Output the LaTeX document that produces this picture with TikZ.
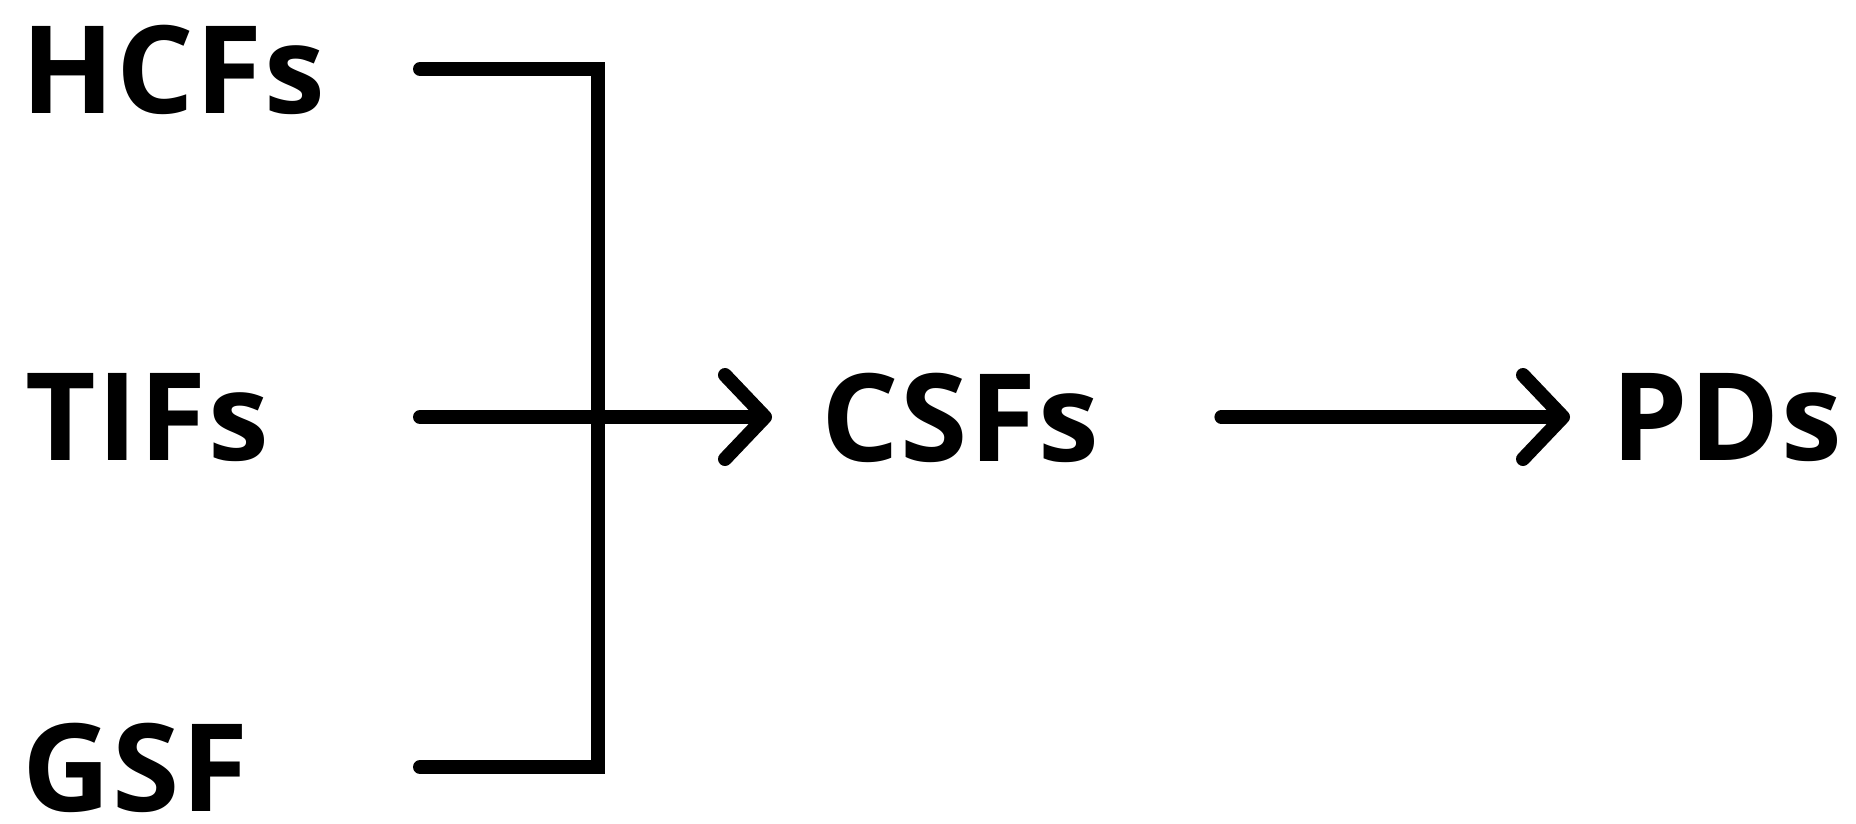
\documentclass[tikz,border=0pt]{standalone}
\usepackage{fontspec}
\setmainfont{Open Sans}[LetterSpace=1.5]
\usepackage{tikz}
\usetikzlibrary{arrows.meta, positioning, calc}

\begin{document}
\begin{tikzpicture}[x=1pt, y=1pt,
    factor/.style={anchor=west, inner sep=0pt, text depth=0pt,
        font=\fontsize{122}{122}\selectfont\bfseries},
    link/.style={line width=14pt, line cap=round, black},
    flow/.style={link, -{Straight Barb[length=40pt, width=84pt, line cap=round, line join=round]}}]
    \useasboundingbox (0,0) rectangle (1856,-823);

    % Input factors
    \node[factor] (hcf) at (21,-69) {HCFs};
    \node[factor] (tif) at (25,-417) {TIFs};
    \node[factor] (gsf) at (22,-767) {GSF};

    % Outcomes
    \node[factor] (csf) at (821,-417) {CSFs};
    \node[factor] (pd) at (1611,-417) {PDs};

    % Junction
    \coordinate (start) at (420,0);
    \coordinate (join) at (598,-417);

    % Bracket and arrows
    \draw[link] (hcf.east -| start) -| (join) |- (gsf.east -| start);
    \draw[flow] (tif.east -| start) -- ([xshift=-49pt]csf.west);
    \draw[flow] ([xshift=122pt]csf.east) -- ([xshift=-41pt]pd.west);
\end{tikzpicture}
\end{document}
